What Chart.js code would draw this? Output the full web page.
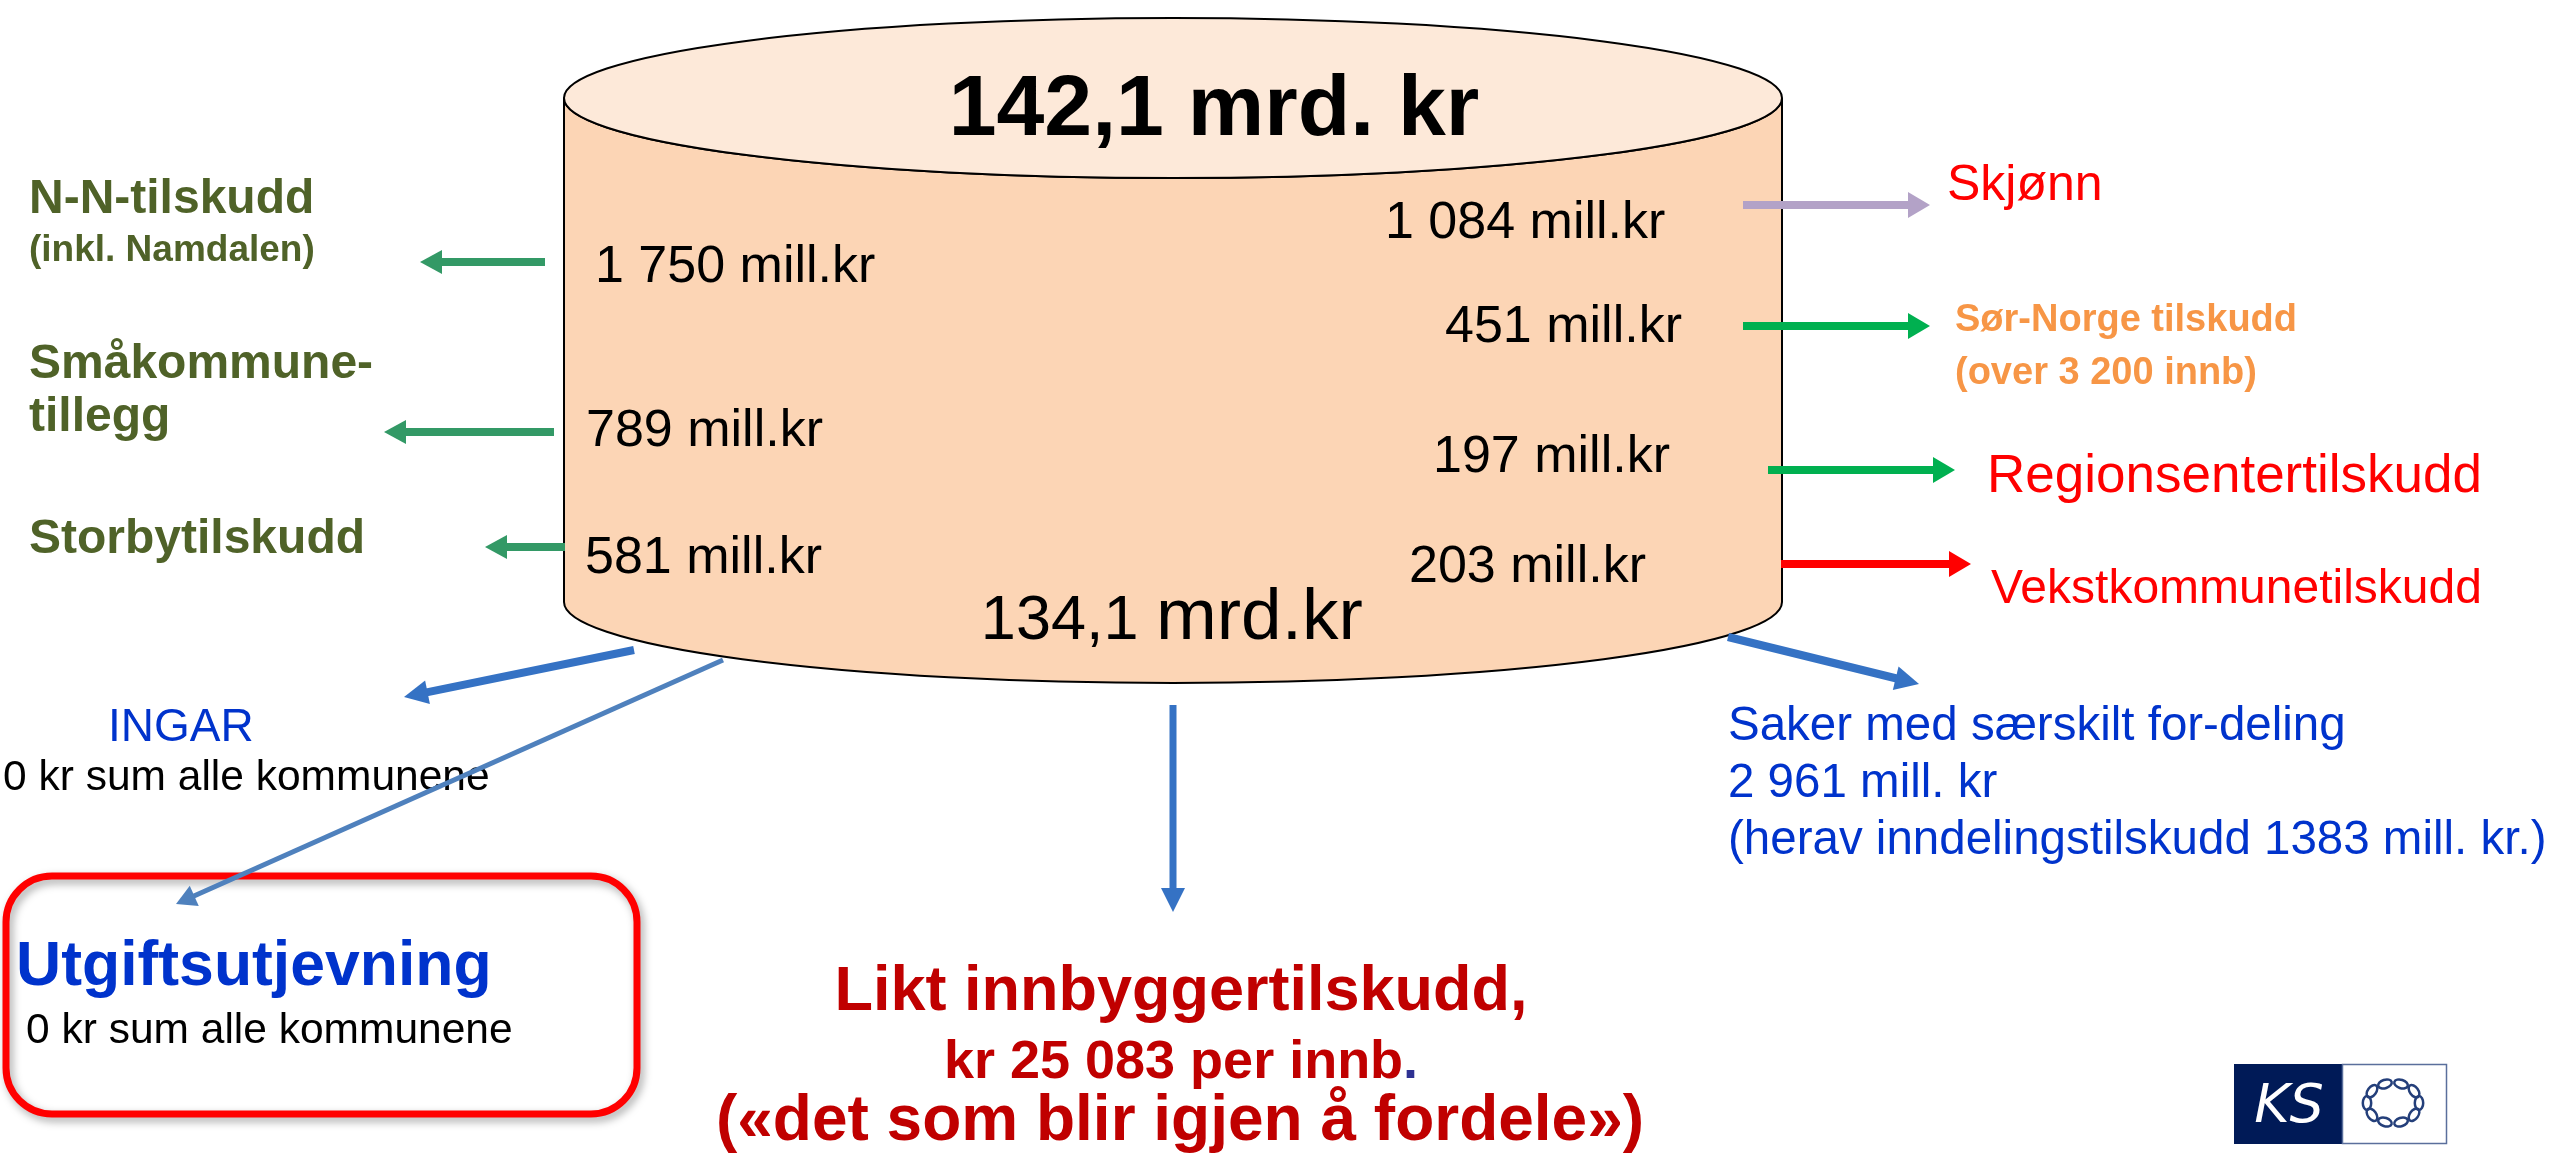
<!DOCTYPE html>
<html><head><meta charset="utf-8">
<script src="https://cdn.jsdelivr.net/npm/chart.js@4.4.1/dist/chart.umd.min.js"></script>
<style>html,body{margin:0;padding:0;background:#fff;overflow:hidden}#wrap{width:2554px;height:1159px;position:relative}canvas{display:block}</style>
</head><body><div id="wrap"><canvas id="c" width="2554" height="1159"></canvas></div>
<script>
// ---------------- data ----------------
const totalMrd = 142.1;          // mrd. kr in the pot
const remainingMrd = 134.1;      // mrd. kr left after the special grants
const leftCategories = ['N-N-tilskudd', 'Småkommune-tillegg', 'Storbytilskudd'];
const leftSubLabels = ['(inkl. Namdalen)', '', ''];
const leftValues = [1750, 789, 581];            // mill. kr
const rightCategories = ['Skjønn', 'Sør-Norge tilskudd', 'Regionsentertilskudd', 'Vekstkommunetilskudd'];
const rightSubLabels = ['', '(over 3 200 innb)', '', ''];
const rightValues = [1084, 451, 197, 203];      // mill. kr
const zeroCategories = ['INGAR', 'Utgiftsutjevning'];
const zeroValues = [0, 0];                      // kr sum alle kommunene
const separateLabel = 'Saker med særskilt for-deling';
const separateValue = 2961;                     // mill. kr
const inndelingValue = 1383;                    // mill. kr
const perInhabitant = 25083;                    // kr per innbygger

// ---------------- layout (positions in a 2554 x 1159 frame) ----------------
const FRAME_W = 2554, FRAME_H = 1159;
const cyl = {cx: 1173, rx: 609, topCy: 98, topRy: 80, botCy: 602, botRy: 81};
const leftLabelPos = [[29, 213], [29, 378], [29, 553]];
const leftLineGap = 53;
const leftValuePos = [[595, 282], [586, 446], [585, 573]];
const leftArrowPos = [[545, 262, 420, 262], [554, 432, 384, 432], [565, 547, 485, 547]];
const rightLabelPos = [[1947, 200], [1955, 331], [1987, 492], [1991, 603]];
const rightLabelSize = [50, 38, 53, 48];
const rightSubGap = 53;
const rightValuePos = [[1385, 238], [1445, 342], [1433, 472], [1409, 582]];
const rightArrowPos = [[1743, 205, 1930, 205], [1743, 326, 1930, 326], [1768, 470, 1955, 470], [1781, 564, 1971, 564]];
const rightArrowColors = ['#b3a2c7', '#00b050', '#00b050', '#ff0000'];
const blueArrowPos = [[634, 650, 404, 697], [723, 660, 176, 904], [1173, 705, 1173, 912], [1728, 637, 1919, 684]];
const blueArrowStyle = [[8, '#3572c4'], [5, '#4f81bd'], [7, '#3572c4'], [8, '#3572c4']];

const FONT = '"Liberation Sans", Arial, sans-serif';
const fmt = n => String(n).replace(/\B(?=(\d{3})+(?!\d))/g, ' ');
const fmtMrd = v => v.toFixed(1).replace('.', ',');

// arrows -> datasets (shafts); heads drawn by plugin
const arrows = [];
leftArrowPos.forEach(a => arrows.push({a, w: 8, c: '#339966', hl: 22, hw: 12}));
rightArrowPos.forEach((a, i) => arrows.push({a, w: 8, c: rightArrowColors[i], hl: 22, hw: 13}));
blueArrowPos.forEach((a, i) => arrows.push({a, w: blueArrowStyle[i][0], c: blueArrowStyle[i][1], hl: blueArrowStyle[i][0] > 5 ? 24 : 20, hw: blueArrowStyle[i][0] > 5 ? 12 : 11}));
arrows.forEach(ar => {
  const [x1, y1, x2, y2] = ar.a;
  const L = Math.hypot(x2 - x1, y2 - y1);
  ar.ux = (x2 - x1) / L; ar.uy = (y2 - y1) / L;
  ar.base = [x2 - ar.ux * (ar.hl - 1), y2 - ar.uy * (ar.hl - 1)];
});
const datasets = arrows.map(ar => ({
  type: 'line',
  data: [{x: ar.a[0], y: ar.a[1]}, {x: ar.base[0], y: ar.base[1]}],
  borderColor: ar.c, borderWidth: ar.w, pointRadius: 0, showLine: true,
  borderCapStyle: 'butt', fill: false, tension: 0
}));

const diagramPlugin = {
  id: 'diagram',
  beforeDatasetsDraw(chart) {
    const ctx = chart.ctx, xs = chart.scales.x, ys = chart.scales.y;
    const X = v => xs.getPixelForValue(v), Y = v => ys.getPixelForValue(v);
    const text = (s, x, y, font, color, align = 'left') => {
      ctx.font = font; ctx.fillStyle = color; ctx.textAlign = align; ctx.textBaseline = 'alphabetic';
      ctx.fillText(s, X(x), Y(y));
    };
    ctx.save();
    // cylinder
    const cx = X(cyl.cx), rx = X(cyl.cx + cyl.rx) - cx;
    const ty = Y(cyl.topCy), by = Y(cyl.botCy);
    const tRy = Y(cyl.topCy + cyl.topRy) - ty, bRy = Y(cyl.botCy + cyl.botRy) - by;
    ctx.beginPath();
    ctx.moveTo(cx - rx, ty);
    ctx.lineTo(cx - rx, by);
    ctx.ellipse(cx, by, rx, bRy, 0, Math.PI, 0, true);
    ctx.lineTo(cx + rx, ty);
    ctx.ellipse(cx, ty, rx, tRy, 0, 0, Math.PI, false);
    ctx.closePath();
    ctx.fillStyle = '#fcd5b5'; ctx.fill();
    ctx.lineWidth = 2; ctx.strokeStyle = '#000'; ctx.stroke();
    ctx.beginPath();
    ctx.ellipse(cx, ty, rx, tRy, 0, 0, Math.PI * 2);
    ctx.fillStyle = '#fde9d9'; ctx.fill(); ctx.stroke();

    // totals
    text(fmtMrd(totalMrd) + ' mrd. kr', 1214, 135, 'bold 86px ' + FONT, '#000', 'center');
    text(fmtMrd(remainingMrd) + ' ', 1156, 639, '63px ' + FONT, '#000', 'right');
    text('mrd.kr', 1156, 639, '73px ' + FONT, '#000', 'left');

    // left side
    leftCategories.forEach((c, i) => {
      const [x, y] = leftLabelPos[i];
      const lines = c.includes('-tillegg') ? ['Småkommune-', 'tillegg'] : [c];
      lines.forEach((l, j) => text(l, x, y + j * leftLineGap, 'bold 48px ' + FONT, '#4f6228'));
      if (leftSubLabels[i]) text(leftSubLabels[i], x, y + 48, 'bold 37px ' + FONT, '#4f6228');
      const [vx, vy] = leftValuePos[i];
      text(fmt(leftValues[i]) + ' mill.kr', vx, vy, '52px ' + FONT, '#000');
    });
    // right side
    rightCategories.forEach((c, i) => {
      const [x, y] = rightLabelPos[i];
      const isOrange = !!rightSubLabels[i];
      if (isOrange) {
        text(c, x, y, 'bold ' + rightLabelSize[i] + 'px ' + FONT, '#f79646');
        text(rightSubLabels[i], x, y + rightSubGap, 'bold ' + rightLabelSize[i] + 'px ' + FONT, '#f79646');
      } else {
        text(c, x, y, rightLabelSize[i] + 'px ' + FONT, '#ff0000');
      }
      const [vx, vy] = rightValuePos[i];
      text(fmt(rightValues[i]) + ' mill.kr', vx, vy, '52px ' + FONT, '#000');
    });

    // INGAR
    text(zeroCategories[0], 108, 741, '46px ' + FONT, '#0033cc');
    text(fmt(zeroValues[0]) + ' kr sum alle kommunene', 3, 790, '42.5px ' + FONT, '#000');

    // red rounded box
    ctx.save();
    ctx.shadowColor = 'rgba(0,0,0,0.35)'; ctx.shadowBlur = 8; ctx.shadowOffsetX = 3; ctx.shadowOffsetY = 4;
    ctx.beginPath();
    ctx.roundRect(X(6), Y(876), X(637) - X(6), Y(1114) - Y(876), 46);
    ctx.lineWidth = 7; ctx.strokeStyle = '#ff0000'; ctx.stroke();
    ctx.restore();
    text(zeroCategories[1], 16, 985, 'bold 62.5px ' + FONT, '#0033cc');
    text(fmt(zeroValues[1]) + ' kr sum alle kommunene', 26, 1043, '42.5px ' + FONT, '#000');

    // centre bottom
    text('Likt innbyggertilskudd,', 1181, 1010, 'bold 63px ' + FONT, '#c00000', 'center');
    ctx.font = 'bold 54px ' + FONT;
    const s1 = 'kr ' + fmt(perInhabitant) + ' per innb', w1 = ctx.measureText(s1).width, w2 = ctx.measureText('.').width;
    const startX = X(1181) - (w1 + w2) / 2;
    ctx.textAlign = 'left'; ctx.fillStyle = '#c00000'; ctx.fillText(s1, startX, Y(1078));
    ctx.fillStyle = '#2e3192'; ctx.fillText('.', startX + w1, Y(1078));
    text('(«det som blir igjen å fordele»)', 1180, 1140, 'bold 64px ' + FONT, '#c00000', 'center');

    // right bottom
    text(separateLabel, 1728, 740, '47.5px ' + FONT, '#0033cc');
    text(fmt(separateValue) + ' mill. kr', 1728, 797, '47.5px ' + FONT, '#0033cc');
    text('(herav inndelingstilskudd ' + inndelingValue + ' mill. kr.)', 1728, 854, '47.5px ' + FONT, '#0033cc');

    // KS logo
    ctx.fillStyle = '#001a57';
    ctx.fillRect(X(2234), Y(1064), X(2342) - X(2234), Y(1144) - Y(1064));
    ctx.fillStyle = '#fff';
    ctx.fillRect(X(2342), Y(1064), X(2447) - X(2342), Y(1144) - Y(1064));
    ctx.lineWidth = 1.5; ctx.strokeStyle = '#5a6f9c';
    ctx.strokeRect(X(2342) + 0.5, Y(1064) + 0.5, X(2447) - X(2342) - 1, Y(1144) - Y(1064) - 1);
    text('KS', 2289, 1122, 'italic 54px "DejaVu Sans", ' + FONT, '#ffffff', 'center');
    const lx = X(2393), ly = Y(1103);
    ctx.strokeStyle = '#243f7a'; ctx.lineWidth = 2.5;
    for (let k = 0; k < 10; k++) {
      const t = k / 10 * Math.PI * 2;
      const px = lx + 26 * Math.cos(t), py = ly + 20 * Math.sin(t);
      ctx.beginPath();
      ctx.ellipse(px, py, 7, 4.2, t + Math.PI / 2, 0, Math.PI * 2);
      ctx.stroke();
    }
    ctx.restore();
  },
  afterDatasetsDraw(chart) {
    const ctx = chart.ctx, xs = chart.scales.x, ys = chart.scales.y;
    ctx.save();
    arrows.forEach(ar => {
      const tx = xs.getPixelForValue(ar.a[2]), ty = ys.getPixelForValue(ar.a[3]);
      const bx = tx - ar.ux * ar.hl, by = ty - ar.uy * ar.hl;
      const nx = -ar.uy, ny = ar.ux;
      ctx.beginPath();
      ctx.moveTo(tx, ty);
      ctx.lineTo(bx + nx * ar.hw, by + ny * ar.hw);
      ctx.lineTo(bx - nx * ar.hw, by - ny * ar.hw);
      ctx.closePath();
      ctx.fillStyle = ar.c; ctx.fill();
    });
    ctx.restore();
  }
};

new Chart(document.getElementById('c'), {
  type: 'scatter',
  data: {datasets},
  options: {
    responsive: false, animation: false, devicePixelRatio: 1,
    layout: {padding: 0},
    plugins: {legend: {display: false}, tooltip: {enabled: false}},
    scales: {
      x: {type: 'linear', min: 0, max: FRAME_W, display: false},
      y: {type: 'linear', min: 0, max: FRAME_H, reverse: true, display: false}
    }
  },
  plugins: [diagramPlugin]
});
</script></body></html>
